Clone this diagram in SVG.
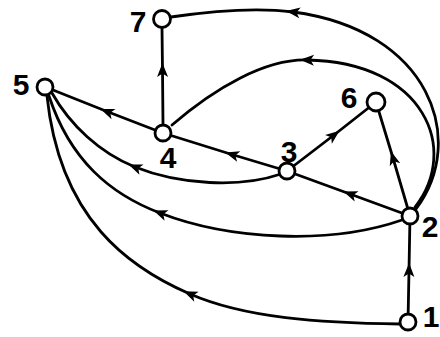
<svg xmlns="http://www.w3.org/2000/svg" width="440" height="337" viewBox="0 0 440 337">
<style>
.e{fill:none;stroke:#000;stroke-width:2.8;stroke-linecap:round;marker-mid:url(#arr)}
.n{fill:#fff;stroke:#000;stroke-width:2.8}
.l{font-family:"Liberation Sans",Arial,sans-serif;font-size:30px;font-weight:bold;text-anchor:middle;fill:#000}
</style>
<defs>
<marker id="arr" markerUnits="userSpaceOnUse" markerWidth="16" markerHeight="14" refX="7" refY="0" orient="auto" overflow="visible">
<path d="M0,-5.5 L14,0 L0,5.5 L3.5,0 Z" fill="#000"/>
</marker>
</defs>
<rect width="440" height="337" fill="#fff"/>
<g id="connectors">
<path class="e" d="M163 124 L162.5 70 L162 28"/>
<path class="e" d="M155 130 L107 111.5 L53 90"/>
<path class="e" d="M287 171 L232 154.5 L163 133"/>
<path class="e" d="M410 216 L350 194 L287 171"/>
<path class="e" d="M287 171 L334 135 L376 102"/>
<path class="e" d="M410 216 L393 158 L376 102"/>
<path class="e" d="M408 322 L409 270 L410 216"/>
<path class="e" d="M400 324 C320 323 245 318 190 294 C130 268 60 220 47 96"/>
<path class="e" d="M402 220 C330 245 230 240 160 213 C110 194 70 160 49 96"/>
<path class="e" d="M281 174 C240 188 180 185 135 167 C100 153 70 125 52 93"/>
<path class="e" d="M416 209 C468 140 430 30 293 12 C255 7 205 12 171 17"/>
<path class="e" d="M415 207 C460 150 425 62 307 60 C265 59 215 88 172 125"/>
</g>
<g id="node1"><circle class="n" cx="408" cy="322" r="8"/><text class="l" x="431" y="327">1</text></g>
<g id="node2"><circle class="n" cx="410" cy="216" r="8"/><text class="l" x="430" y="237">2</text></g>
<g id="node3"><circle class="n" cx="287" cy="171" r="8"/><text class="l" x="289" y="162">3</text></g>
<g id="node4"><circle class="n" cx="163" cy="133" r="8"/><text class="l" x="168" y="168">4</text></g>
<g id="node5"><circle class="n" cx="45" cy="87" r="8"/><text class="l" x="21" y="95">5</text></g>
<g id="node6"><circle class="n" cx="376" cy="102" r="9"/><text class="l" x="349" y="108">6</text></g>
<g id="node7"><circle class="n" cx="162" cy="19" r="8.5"/><text class="l" x="138" y="32">7</text></g>
</svg>
